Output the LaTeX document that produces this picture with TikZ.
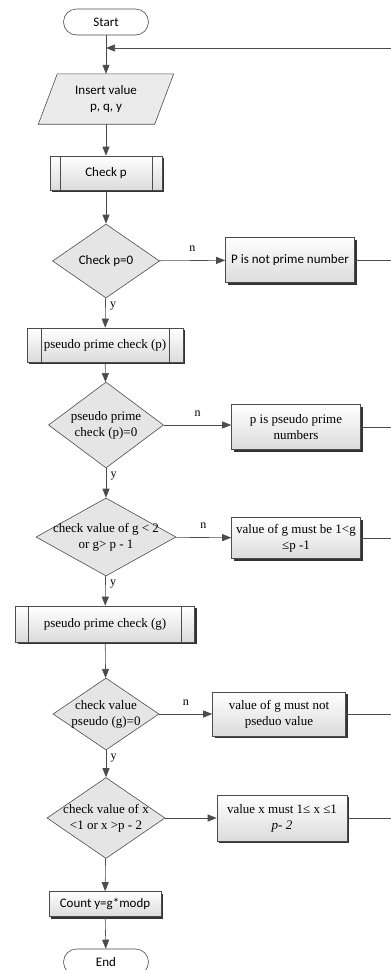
\documentclass[tikz,border=0pt]{standalone}
\usepackage{fontspec}
\setmainfont{Liberation Serif}
\newfontfamily\calibri{Carlito}
\usetikzlibrary{positioning, arrows.meta, shapes.geometric, shadows, backgrounds}

\begin{document}
\begin{tikzpicture}[x=1pt, y=-1pt,
  font=\fontsize{13}{16}\selectfont,
  line/.style={draw=black!70, line width=0.6pt},
  arr/.style={line, -{Triangle[length=9pt, width=7pt]}},
  lbl/.style={font=\fontsize{12}{13}\selectfont},
  sans/.style={font=\calibri\fontsize{13}{16}\selectfont},
  term/.style={line, sans, fill=white, rounded corners=13pt,
    minimum width=85pt, minimum height=26pt},
  io/.style={sans, minimum width=116pt, minimum height=50pt, align=center},
  box/.style={line, top color=white, bottom color=black!14, align=center,
    inner sep=2pt, drop shadow={shadow xshift=2pt, shadow yshift=-2pt,
    fill=black!80, opacity=1}},
  sub/.style={box, path picture={
    \draw[black!70, line width=0.6pt]
      ([xshift=#1]path picture bounding box.north west) --
      ([xshift=#1]path picture bounding box.south west)
      ([xshift=-#1]path picture bounding box.north east) --
      ([xshift=-#1]path picture bounding box.south east);}},
  sub/.default=12pt,
  decision/.style={line, diamond, fill=black!10, inner sep=0pt}]
  \useasboundingbox (0,0) rectangle (391,970);

  \node[term] (start) at (106,22) {Start};
  \node[io] (inp) at (106,99) {Insert value\\p, q, y};
  \node[sub=10pt, sans, minimum width=112pt, minimum height=34pt] (chkp) at (106,173) {Check p};
  \node[decision, minimum width=107pt, minimum height=74pt,
    label={[sans]center:Check p=0}] (d1) at (106,261) {};
  \node[box, sans, minimum width=129pt, minimum height=45pt] (b1) at (290,260) {P is not prime number};
  \node[sub=14pt, minimum width=156pt, minimum height=34pt] (pp) at (105,345) {pseudo prime check (p)};
  \node[decision, minimum width=115pt, minimum height=86pt,
    label={[align=center]center:pseudo prime\\check (p)=0}] (d2) at (106,425) {};
  \node[box, minimum width=129pt, minimum height=45pt] (b2) at (296,427) {p is pseudo prime\\numbers};
  \node[decision, minimum width=140pt, minimum height=78pt,
    label={[align=center]center:check value of g < 2\\or g> p - 1}] (d3) at (106,537) {};
  \node[box, minimum width=129pt, minimum height=41pt] (b3) at (296,538) {value of g must be 1<g\\≤p -1};
  \node[sub=13pt, minimum width=179pt, minimum height=36pt] (pg) at (105,624) {pseudo prime check (g)};
  \node[decision, minimum width=106pt, minimum height=72pt,
    label={[align=center]center:check value\\pseudo (g)=0}] (d4) at (106,714) {};
  \node[box, minimum width=133pt, minimum height=44pt] (b4) at (279,714) {value of g must not\\pseduo value};
  \node[decision, minimum width=118pt, minimum height=81pt,
    label={[align=center]center:check value of x\\<1 or x >p - 2}] (d5) at (106,818) {};
  \node[box, minimum width=130pt, minimum height=46pt] (b5) at (282,818) {value x must 1≤ x ≤1\\\textit{p- 2}};
  \node[box, sans, minimum width=112pt, minimum height=25pt] (cnt) at (105,904) {Count y=g*modp};
  \node[term] (end) at (106,962) {End};
  \coordinate (r0) at (391,48);

  \begin{scope}[on background layer]
    \draw[line, fill=black!8] ([xshift=9.5pt]inp.north west) -- ([xshift=9.5pt]inp.north east)
      -- ([xshift=-9.5pt]inp.south east) -- ([xshift=-9.5pt]inp.south west) -- cycle;
  \end{scope}

  \draw[arr] (start) -- (inp);
  \draw[arr] (r0) -- (r0 -| start.south);
  \draw[arr] (inp) -- (chkp);
  \draw[arr] (chkp) -- (d1);
  \draw[arr] (d1) -- node[lbl, above=5pt] {n} (b1);
  \draw[arr] (d1) -- node[lbl, pos=0, anchor=north west, xshift=1pt] {y} (pp);
  \draw[arr] (pp) -- (d2);
  \draw[arr] (d2) -- node[lbl, above=5pt] {n} (d2 -| b2.west);
  \draw[arr] (d2) -- node[lbl, pos=0, anchor=north west, xshift=1pt] {y} (d3);
  \draw[arr] (d3) -- node[lbl, above=5pt] {n} (b3);
  \draw[arr] (d3) -- node[lbl, pos=0, anchor=north west, xshift=1pt] {y} (pg);
  \draw[arr] (pg) -- (d4);
  \draw[arr] (d4) -- node[lbl, above=5pt] {n} (b4);
  \draw[arr] (d4) -- node[lbl, pos=0, anchor=north west, xshift=1pt] {y} (d5);
  \draw[arr] (d5) -- (b5);
  \draw[arr] (d5) -- (cnt);
  \draw[arr] (cnt) -- (end);
  \draw[line] (b1.east) -- (b1.east -| r0);
  \draw[line] (b2.east) -- (b2.east -| r0);
  \draw[line] (b3.east) -- (b3.east -| r0);
  \draw[line] (b4.east) -- (b4.east -| r0);
  \draw[line] (b5.east) -- (b5.east -| r0);
\end{tikzpicture}
\end{document}
